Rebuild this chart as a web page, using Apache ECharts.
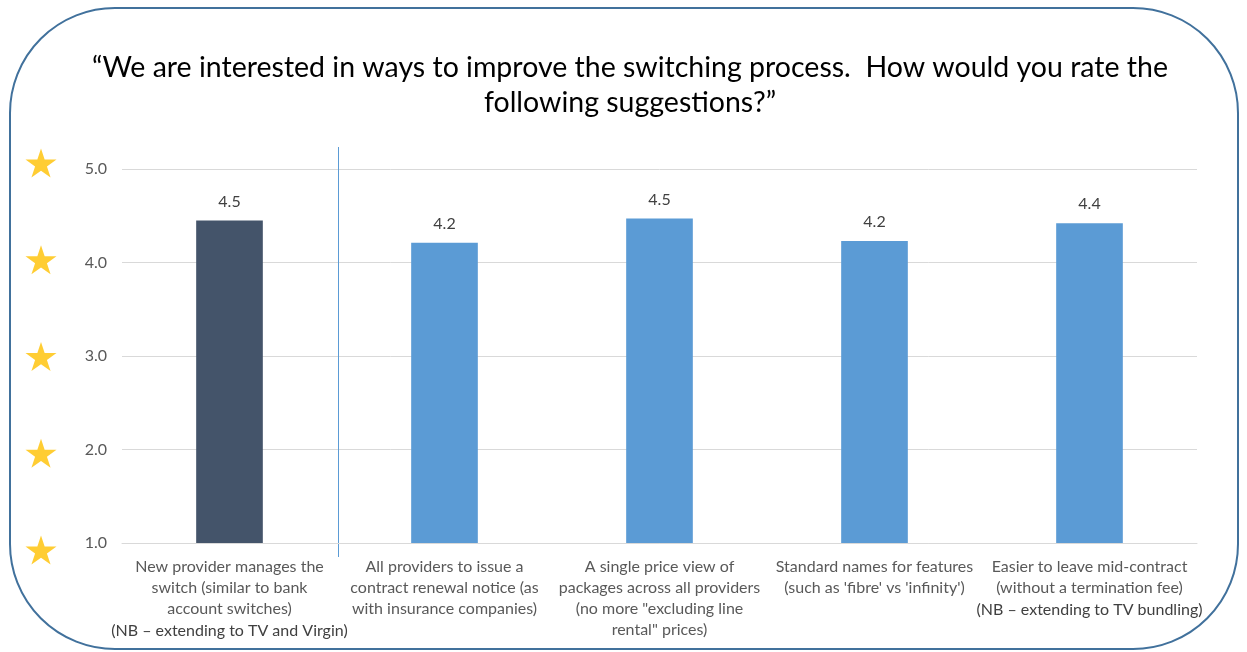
<!DOCTYPE html>
<html>
<head>
<meta charset="utf-8">
<script src="https://cdn.jsdelivr.net/npm/echarts@6/dist/echarts.min.js"></script>
<style>
  html, body { margin: 0; padding: 0; background: #fff; }
  #chart { width: 1247px; height: 652px; }
</style>
</head>
<body>
<div id="chart"></div>
<script>
  // ratings out of 5
  var categories = [
    'New provider manages the\nswitch (similar to bank\naccount switches)',
    'All providers to issue a\ncontract renewal notice (as\nwith insurance companies)',
    'A single price view of\npackages across all providers\n(no more "excluding line\nrental" prices)',
    'Standard names for features\n(such as \'fibre\' vs \'infinity\')',
    'Easier to leave mid-contract\n(without a termination fee)'
  ];
  var notes = [
    '(NB \u2013 extending to TV and Virgin)',
    '',
    '',
    '',
    '(NB \u2013 extending to TV bundling)'
  ];
  var ratings = [4.45, 4.21, 4.47, 4.23, 4.42];
  var barColors = ['#44546A', '#5B9BD5', '#5B9BD5', '#5B9BD5', '#5B9BD5'];
  var starLevels = [1, 2, 3, 4, 5];

  var FONT = 'Lato, "Noto Sans", sans-serif';
  var STAR = 'path://M50,0 L61.2,34.5 L97.6,34.5 L68.2,55.9 L79.4,90.5 L50,69.1 L20.6,90.5 L31.8,55.9 L2.4,34.5 L38.8,34.5 Z';

  var chart = echarts.init(document.getElementById('chart'), null, { renderer: 'canvas' });

  chart.setOption({
    backgroundColor: '#fff',
    animation: false,
    textStyle: { fontFamily: FONT },
    title: {
      text: '\u201cWe are interested in ways to improve the switching process.  How would you rate the\nfollowing suggestions?\u201d',
      left: 625,
      top: 45,
      textAlign: 'center',
      textStyle: {
        fontFamily: FONT,
        fontSize: 28.5,
        fontWeight: 'normal',
        color: '#000',
        lineHeight: 35
      }
    },
    grid: [
      { left: 122, right: 50, top: 169, bottom: 109, containLabel: false },
      { left: 26, width: 30, top: 163, height: 387 }
    ],
    xAxis: [
      {
        type: 'category',
        gridIndex: 0,
        data: categories,
        axisLine: { show: true, lineStyle: { color: '#D9D9D9', width: 1 } },
        axisTick: { show: false },
        axisLabel: {
          interval: 0,
          margin: 13,
          color: '#595959',
          fontSize: 16,
          lineHeight: 21,
          fontFamily: FONT,
          formatter: function (value, idx) {
            return notes[idx] ? value + '\n{nb|' + notes[idx] + '}' : value;
          },
          rich: {
            nb: { color: '#404040', fontSize: 16, lineHeight: 23, fontFamily: FONT }
          }
        }
      },
      { type: 'value', gridIndex: 1, min: -1, max: 1, show: false }
    ],
    yAxis: [
      {
        type: 'value',
        gridIndex: 0,
        min: 1,
        max: 5,
        interval: 1,
        axisLine: { show: false },
        axisTick: { show: false },
        splitLine: { lineStyle: { color: '#D9D9D9', width: 1 } },
        axisLabel: {
          margin: 15,
          color: '#595959',
          fontSize: 16,
          fontFamily: FONT,
          formatter: function (v) { return v.toFixed(1); }
        }
      },
      { type: 'value', gridIndex: 1, min: 1, max: 5, show: false }
    ],
    series: [
      {
        type: 'bar',
        xAxisIndex: 0,
        yAxisIndex: 0,
        barWidth: '31%',
        data: ratings.map(function (v, i) {
          return { value: v, itemStyle: { color: barColors[i] } };
        }),
        label: {
          show: true,
          position: 'top',
          distance: 11,
          color: '#404040',
          fontSize: 16,
          fontFamily: FONT,
          formatter: function (p) { return p.value.toFixed(1); }
        }
      },
      {
        type: 'scatter',
        xAxisIndex: 1,
        yAxisIndex: 1,
        symbol: STAR,
        symbolSize: [31, 29],
        itemStyle: { color: '#FFC000' },
        silent: true,
        data: starLevels.map(function (v) { return [0, v]; })
      }
    ]
  });

  // divider between first category and the rest, plus the rounded frame
  var c0 = chart.convertToPixel({ xAxisIndex: 0 }, 0);
  var c1 = chart.convertToPixel({ xAxisIndex: 0 }, 1);
  var divX = Math.round((c0 + c1) / 2) + 1.5;
  var yTop = chart.convertToPixel({ yAxisIndex: 0 }, 5);
  var yBot = chart.convertToPixel({ yAxisIndex: 0 }, 1);

  chart.setOption({
    graphic: [
      {
        type: 'line',
        shape: { x1: divX, y1: yTop - 22, x2: divX, y2: yBot + 14 },
        style: { stroke: '#5B9BD5', lineWidth: 1 },
        silent: true
      },
      {
        type: 'rect',
        shape: { x: 10, y: 8, width: 1228, height: 641, r: 105 },
        style: { fill: 'none', stroke: '#41719C', lineWidth: 2 },
        silent: true,
        z: 100
      }
    ]
  });
</script>
</body>
</html>
